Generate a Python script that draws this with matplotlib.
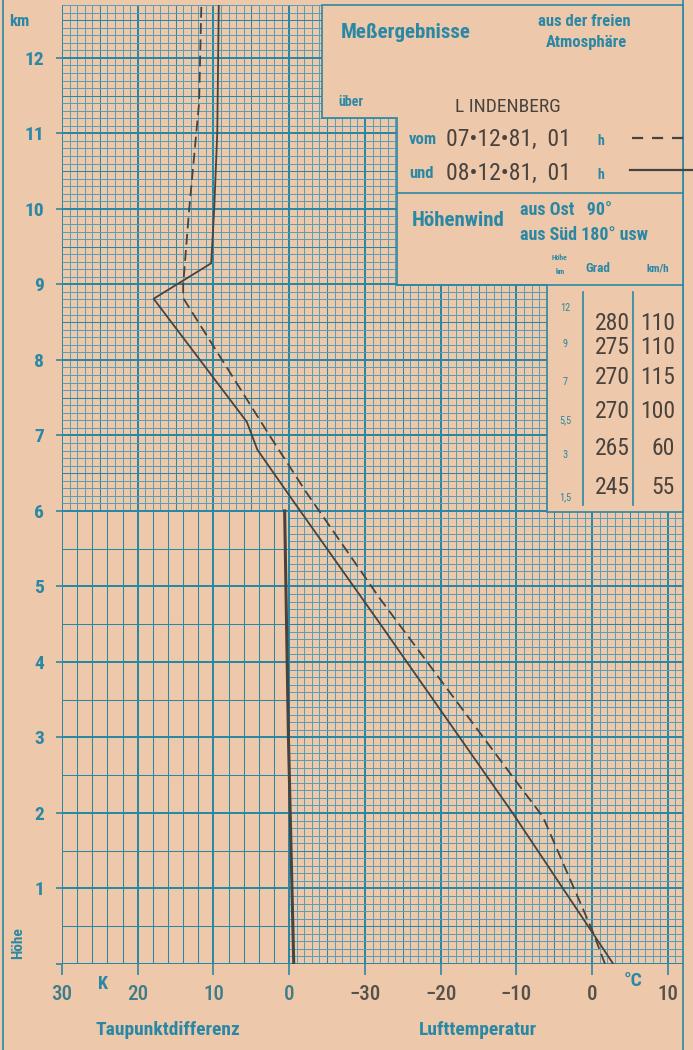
import matplotlib
matplotlib.use('Agg')
import matplotlib.pyplot as plt
import numpy as np
from matplotlib import font_manager as fm
from matplotlib.patches import Polygon

# --- Messwerte -----------------------------------------------------------
# Lufttemperatur 07.12.81 (gestrichelt): Hoehe km / Temperatur degC
h_07 = [0.0, 0.45, 1.95, 2.4, 4.85, 6.24, 7.0, 8.82, 9.0, 10.0, 11.4, 12.7]
t_07 = [1.7, 0.0, -6.5, -9.9, -28.1, -37.7, -42.6, -54.0, -54.0, -53.2, -51.9, -51.6]

# Lufttemperatur 08.12.81 (durchgezogen)
h_08 = [0.0, 2.0, 4.52, 6.15, 6.81, 7.18, 8.81, 9.28, 10.0, 11.0, 12.7]
t_08 = [2.8, -10.5, -28.1, -39.6, -44.2, -45.6, -57.9, -50.3, -49.9, -49.5, -49.3]

# Taupunktdifferenz (K)
h_td = [0.0, 3.0, 6.0]
td = [-0.6, 0.1, 0.6]

# Hoehenwind
wind_h = ['12', '9', '7', '5,5', '3', '1,5']
wind_dir = [280, 275, 270, 270, 265, 245]
wind_kmh = [110, 110, 115, 100, 60, 55]

td_ticks = [30, 20, 10, 0]
t_ticks = [-30, -20, -10, 0, 10]
km_ticks = list(range(0, 13))

# --- Stil ----------------------------------------------------------------
bg = '#edc8aa'
teal = '#2b88a5'
fine = '#5a9fb3'
ink = '#48433f'
gray = '#55524c'

names = {f.name for f in fm.fontManager.ttflist}
font = 'DejaVu Sans'
for cand in ['Liberation Sans Narrow', 'Roboto Condensed', 'DejaVu Sans Condensed']:
    if cand in names:
        font = cand
        break
plt.rcParams['font.family'] = [font, 'DejaVu Sans']

W, H = 693, 1050
fig = plt.figure(figsize=(W / 100, H / 100), dpi=100)
fig.patch.set_facecolor(bg)


def fx(x):
    return x / W


def fy(y):
    return 1 - y / H


def put(x, y, s, **kw):
    kw.setdefault('ha', 'center')
    kw.setdefault('va', 'center')
    fig.text(fx(x), fy(y), s, zorder=6, **kw)


ax = fig.add_axes([fx(62), 1 - 964 / H, (683 - 62) / W, (964 - 5) / H])
ax.set_xlim(-70, 12)
ax.set_ylim(0, 12.7)
ax.set_facecolor('none')
for s in ax.spines.values():
    s.set_visible(False)


def widths(vals, major, medium):
    out = []
    for v in vals:
        if abs(v / major - round(v / major)) < 1e-6:
            out.append(1.44)
        elif medium and abs(v / medium - round(v / medium)) < 1e-6:
            out.append(0.73)
        else:
            out.append(0.72)
    return out


def col(ws, vals, medium):
    out = []
    for w, v in zip(ws, vals):
        if w > 1 or abs(v / medium - round(v / medium)) < 1e-6:
            out.append(teal)
        else:
            out.append(fine)
    return out


def net(xs, y0, y1, ys, x0, x1, medx, medy):
    ws = widths(xs, 10, medx)
    lc = ax.vlines(xs, y0, y1, colors=col(ws, xs, medx), linewidths=ws, zorder=1)
    lc.set_snap(True)
    ws = widths(ys, 1, medy)
    lc = ax.hlines(ys, x0, x1, colors=col(ws, ys, medy), linewidths=ws, zorder=1)
    lc.set_snap(True)


# feines Netz: Temperaturbereich und Taupunktbereich oberhalb 6 km
net(np.arange(-40, 12.01, 1), 0, 12.7,
    np.round(np.arange(0, 12.71, 0.1), 1), -40, 12, 5, 0.5)
net(np.arange(-70, -39.99, 1), 6, 12.7,
    np.round(np.arange(6, 12.71, 0.1), 1), -70, -40, 5, 0.5)

# grobes Netz: Taupunktbereich unterhalb 6 km
net(np.arange(-70, -39.99, 2), 0, 6, np.arange(0, 6.01, 0.5), -70, -40, 2, 0.5)

# Profile
ax.plot(t_07, h_07, color=ink, lw=1.3, ls=(0, (6, 3)), zorder=4)
ax.plot(t_08, h_08, color=ink, lw=1.3, zorder=4)
ax.plot([-40 - d for d in td], h_td, color=ink, lw=2.2, zorder=4)

# Achsen
ax.set_yticks(km_ticks)
ax.set_yticklabels([''] + [str(k) for k in km_ticks[1:]])
ax.tick_params(axis='y', length=4, width=1.2, color=teal, pad=9,
               labelsize=14, labelcolor=teal)
for lab in ax.get_yticklabels():
    lab.set_fontweight('bold')

xpos = [-40 - d for d in td_ticks] + t_ticks
xlab = [str(d) for d in td_ticks] + [str(t).replace('-', '\u2212') for t in t_ticks]
ax.set_xticks(xpos)
ax.set_xticklabels(xlab)
ax.tick_params(axis='x', length=8, width=1.2, color=teal, pad=7, labelsize=15)
for i, lab in enumerate(ax.get_xticklabels()):
    lab.set_color('#3f7c88' if i < len(td_ticks) else gray)
    lab.set_fontweight('medium')

# Raender
fig.add_artist(plt.Line2D([fx(3), fx(3)], [0, 1], color=teal, lw=1.2))
fig.add_artist(plt.Line2D([fx(683), fx(683)], [0, 1], color=teal, lw=1.2))

put(19, 21, 'km', color=teal, fontsize=12, fontweight='bold')
put(18, 943, 'Höhe', color=teal, fontsize=11, fontweight='bold', rotation=90)
put(103, 984, 'K', color=teal, fontsize=13, fontweight='bold')
put(633, 981, '°C', color=teal, fontsize=14, fontweight='bold')
put(168, 1030, 'Taupunktdifferenz', color=teal, fontsize=14, fontweight='bold')
put(478, 1030, 'Lufttemperatur', color=teal, fontsize=14, fontweight='bold')

# Beschriftungsfeld
pts = [(322, 5), (683, 5), (683, 512), (547, 512), (547, 285),
       (397, 285), (397, 118), (322, 118)]
panel = Polygon([(fx(x), fy(y)) for x, y in pts], closed=True,
                transform=fig.transFigure, facecolor=bg, edgecolor=teal,
                lw=1.2, zorder=5)
fig.add_artist(panel)
for y, x0 in [(193, 397), (285, 397)]:
    fig.add_artist(plt.Line2D([fx(x0), fx(683)], [fy(y), fy(y)], color=teal,
                              lw=1.2, zorder=5))
for x in [583, 633]:
    fig.add_artist(plt.Line2D([fx(x), fx(x)], [fy(292), fy(505)], color=teal,
                              lw=1.2, zorder=5))

put(406, 33, 'Meßergebnisse', color=teal, fontsize=15, fontweight='bold')
put(584, 21, 'aus der freien', color=teal, fontsize=12, fontweight='bold')
put(586, 43, 'Atmosphäre', color=teal, fontsize=12, fontweight='bold')
put(351, 102, 'über', color=teal, fontsize=10, fontweight='bold')
put(508, 107, 'L INDENBERG', color=ink, fontsize=14)

put(423, 139, 'vom', color=teal, fontsize=12, fontweight='bold')
put(446, 139, '07\u202212\u202281,  01', color=ink, fontsize=17, ha='left')
put(601, 141, 'h', color=teal, fontsize=10, fontweight='bold')
fig.add_artist(plt.Line2D([fx(632), fx(692)], [fy(138), fy(138)], color=ink,
                          lw=1.6, ls=(0, (5, 4)), zorder=6))
put(422, 173, 'und', color=teal, fontsize=12, fontweight='bold')
put(446, 173, '08\u202212\u202281,  01', color=ink, fontsize=17, ha='left')
put(601, 175, 'h', color=teal, fontsize=10, fontweight='bold')
fig.add_artist(plt.Line2D([fx(630), fx(692)], [fy(170), fy(170)], color=ink,
                          lw=1.6, zorder=6))

put(458, 220, 'Höhenwind', color=teal, fontsize=15, fontweight='bold')
put(520, 210, 'aus Ost   90°', color=teal, fontsize=13, fontweight='bold', ha='left')
put(520, 235, 'aus Süd 180° usw', color=teal, fontsize=13, fontweight='bold', ha='left')
put(560, 257, 'Höhe', color=teal, fontsize=5.5, fontweight='bold')
put(560, 272, 'km', color=teal, fontsize=5.5, fontweight='bold')
put(598, 268, 'Grad', color=teal, fontsize=9.5, fontweight='bold')
put(658, 268, 'km/h', color=teal, fontsize=8, fontweight='bold')

row_y = [323, 347, 377, 411, 448, 487]
lab_y = [308, 344, 382, 420, 455, 497]
for i in range(len(wind_h)):
    put(565, lab_y[i], wind_h[i], color=teal, fontsize=7.5)
    put(630, row_y[i], str(wind_dir[i]), color=ink, fontsize=17, ha='right')
    put(675, row_y[i], str(wind_kmh[i]), color=ink, fontsize=17, ha='right')

fig.savefig('out.png', dpi=100, facecolor=bg)
